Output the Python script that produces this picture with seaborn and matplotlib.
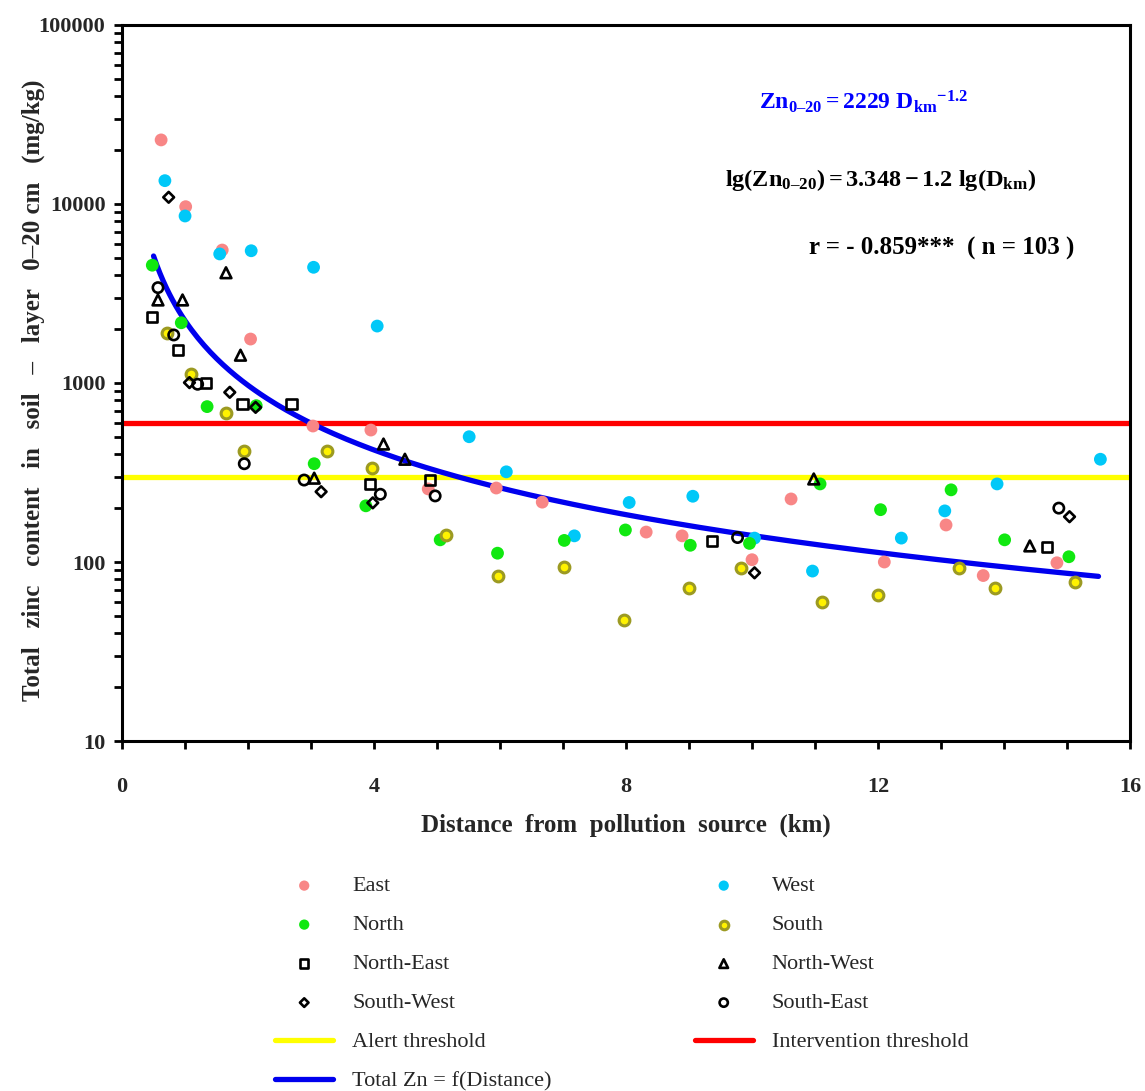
import numpy as np
import pandas as pd
import seaborn as sns
import matplotlib.pyplot as plt
from matplotlib.ticker import FixedLocator, FuncFormatter, LogLocator, NullFormatter, MultipleLocator

# ==================== DATA ====================
east_d = [0.62, 1.01, 1.59, 2.04, 3.03, 3.95, 4.86, 5.94, 6.67, 8.32, 8.89, 10.0, 10.62, 12.1, 13.08, 13.67, 14.84]
east_zn = [22800, 9660, 5530, 1760, 575, 546, 256, 259, 216, 147, 140, 103, 225, 100, 161, 84, 99]

west_d = [0.68, 1.0, 1.55, 2.05, 3.04, 4.05, 5.51, 6.10, 7.18, 8.05, 9.06, 10.04, 10.96, 12.37, 13.06, 13.89, 15.53]
west_zn = [13500, 8570, 5260, 5480, 4430, 2080, 501, 319, 140, 215, 233, 136, 89, 136, 193, 273, 375]

north_d = [0.48, 0.94, 1.35, 2.13, 3.05, 3.87, 5.05, 5.96, 7.02, 7.99, 9.02, 9.96, 11.08, 12.04, 13.16, 14.01, 15.03]
north_zn = [4550, 2170, 738, 747, 354, 206, 133, 112, 132, 151, 124, 127, 273, 196, 253, 133, 107]

south_d = [0.71, 1.09, 1.65, 1.94, 3.25, 3.97, 5.14, 5.96, 7.01, 7.96, 9.0, 9.83, 11.11, 12.0, 13.28, 13.86, 15.13]
south_zn = [1900, 1120, 680, 415, 419, 336, 141, 84, 94, 47.6, 72, 93, 59.5, 65, 93, 72, 77]

ne_d = [0.47, 0.89, 1.33, 1.91, 2.69, 3.94, 4.89, 9.37, 14.68]
ne_zn = [2340, 1530, 996, 763, 760, 273, 287, 131, 121]

nw_d = [0.57, 0.96, 1.65, 1.88, 3.05, 4.15, 4.49, 10.98, 14.41]
nw_zn = [2910, 2910, 4130, 1430, 294, 456, 375, 291, 123]

sw_d = [0.74, 1.07, 1.71, 2.12, 3.16, 3.98, 10.04, 15.04]
sw_zn = [10900, 1005, 887, 731, 247, 214, 87, 179]

se_d = [0.57, 0.82, 1.20, 1.94, 2.89, 4.10, 4.97, 9.77, 14.87]
se_zn = [3410, 1855, 984, 354, 287, 239, 234, 137, 200]

alert_threshold = 300
intervention_threshold = 600

# regression shown on the chart: Zn = 2229 * D^-1.2, drawn from 0.5 to 15.5 km
fit_a = 2229
fit_b = -1.2
fit_range = (0.5, 15.5)

# ==================== STYLE ====================
sns.set_theme(style="white")
plt.rcParams['font.family'] = ['Liberation Serif', 'DejaVu Serif']
plt.rcParams['mathtext.fontset'] = 'custom'
plt.rcParams['mathtext.rm'] = 'Liberation Serif:bold'
plt.rcParams['mathtext.bf'] = 'Liberation Serif:bold'
plt.rcParams['mathtext.it'] = 'Liberation Serif:bold:italic'

groups = [
    ("East", east_d, east_zn, dict(marker='o', s=85, color='#F88686', edgecolor='none')),
    ("West", west_d, west_zn, dict(marker='o', s=85, color='#00C8F8', edgecolor='none')),
    ("North", north_d, north_zn, dict(marker='o', s=85, color='#10E810', edgecolor='none')),
    ("South", south_d, south_zn, dict(marker='o', s=60, color='#FFF200', edgecolor='#9C9A22', linewidth=2.2)),
    ("North-East", ne_d, ne_zn, dict(marker='s', s=55, facecolor='none', edgecolor='black', linewidth=1.9)),
    ("North-West", nw_d, nw_zn, dict(marker='^', s=60, facecolor='none', edgecolor='black', linewidth=1.9)),
    ("South-West", sw_d, sw_zn, dict(marker='D', s=30, facecolor='none', edgecolor='black', linewidth=1.9)),
    ("South-East", se_d, se_zn, dict(marker='o', s=55, facecolor='none', edgecolor='black', linewidth=1.9)),
]

fig = plt.figure(figsize=(11.45, 10.91), dpi=100)
ax = fig.add_axes([0.1066, 0.3208, 0.8803, 0.6563])

for name, d, zn, kw in groups:
    df = pd.DataFrame({"Distance": d, "Zn": zn})
    sns.scatterplot(data=df, x="Distance", y="Zn", ax=ax, label=name, zorder=4, **kw)

ax.axhline(alert_threshold, color='#FFFF00', lw=3.8, label="Alert threshold", zorder=2)
ax.axhline(intervention_threshold, color='#FF0000', lw=3.8, label="Intervention threshold", zorder=2)

d_fit = np.linspace(fit_range[0], fit_range[1], 300)
fit_df = pd.DataFrame({"Distance": d_fit, "Zn": fit_a * d_fit ** fit_b})
sns.lineplot(data=fit_df, x="Distance", y="Zn", ax=ax, color='#0000EE', lw=3.8,
             label="Total Zn = f(Distance)", zorder=3)

ax.set_yscale('log')
ax.set_xlim(0, 16)
ax.set_ylim(10, 100000)

# ticks
ax.xaxis.set_major_locator(MultipleLocator(4))
ax.xaxis.set_minor_locator(MultipleLocator(1))
ax.yaxis.set_major_locator(FixedLocator([10, 100, 1000, 10000, 100000]))
ax.yaxis.set_minor_locator(LogLocator(base=10, subs=np.arange(2, 10)))
ax.yaxis.set_minor_formatter(NullFormatter())
ax.yaxis.set_major_formatter(FuncFormatter(lambda v, p: f"{int(v)}"))
ax.tick_params(axis='both', which='both', direction='out', length=6, width=2, color='black',
               bottom=True, left=True, top=False, right=False)
ax.tick_params(axis='x', which='major', pad=20, labelsize=16)
ax.tick_params(axis='y', which='major', pad=6, labelsize=16)
for lab in ax.get_xticklabels() + ax.get_yticklabels():
    lab.set_fontweight('bold')

for sp in ax.spines.values():
    sp.set_visible(True)
    sp.set_color('black')
    sp.set_linewidth(2.2)

ax.set_xlabel("Distance  from  pollution  source  (km)", fontsize=18, fontweight='bold', labelpad=12)
ax.set_ylabel("Total   zinc   content   in   soil   –   layer   0–20 cm   (mg/kg)", fontsize=18,
              fontweight='bold')
ax.yaxis.set_label_coords(-0.076, 0.49)

# annotations
ax.text(0.736, 0.893, r"$\mathrm{Zn_{0–20} = 2229\ D_{km}}{}^{\mathrm{-1.2}}$", transform=ax.transAxes,
        color='#0000FF', fontsize=17, ha='center', va='center')
ax.text(0.752, 0.7835, r"$\mathrm{lg(Zn_{0–20}) = 3.348 - 1.2\ lg(D_{km})}$", transform=ax.transAxes,
        color='black', fontsize=17.5, ha='center', va='center')
ax.text(0.945, 0.6885, "r = - 0.859***  ( n = 103 )", transform=ax.transAxes,
        color='black', fontsize=18, fontweight='bold', ha='right', va='center')

# legend under the plot, 2 columns
h, l = ax.get_legend_handles_labels()
lookup = dict(zip(l, h))
order = ["East", "North", "North-East", "South-West", "Alert threshold", "Total Zn = f(Distance)",
         "West", "South", "North-West", "South-East", "Intervention threshold"]
ax.get_legend().remove()
fig.legend([lookup[k] for k in order], order, loc='upper left', bbox_to_anchor=(0.223, 0.2155),
           ncol=2, frameon=False, fontsize=16, columnspacing=6.45, handlelength=2.6,
           handletextpad=0.85, labelspacing=0.83, markerscale=0.8)

plt.savefig("out.png", dpi=100)
